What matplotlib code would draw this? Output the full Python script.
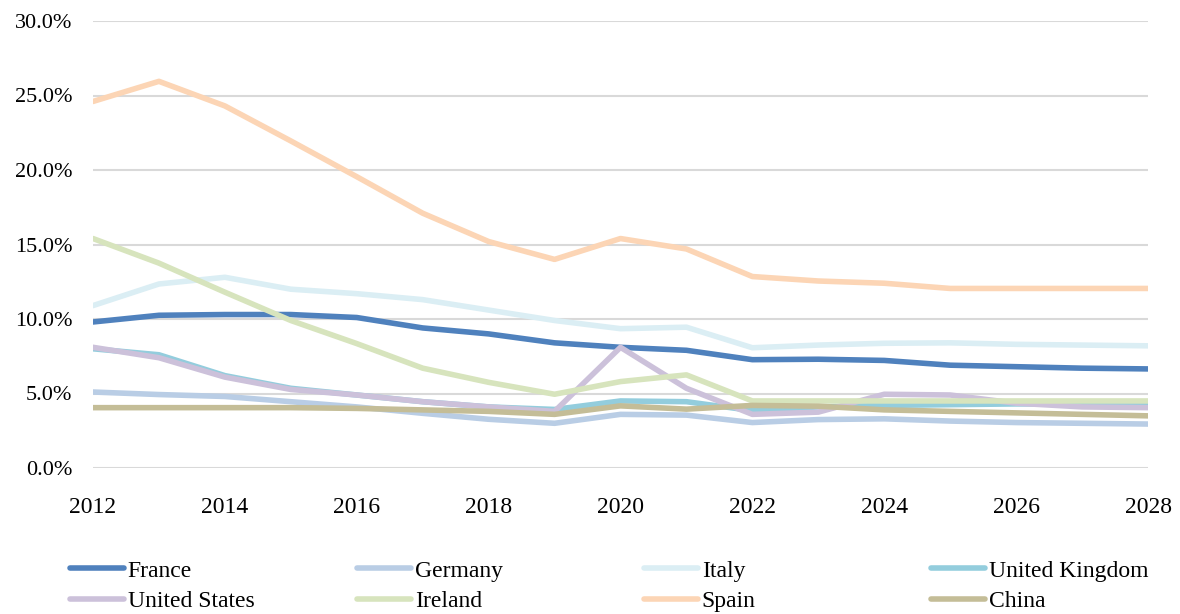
import matplotlib.pyplot as plt
from matplotlib.ticker import PercentFormatter

plt.rcParams['font.family'] = ['Liberation Serif', 'DejaVu Serif']

years = list(range(2012, 2029))

france = [9.8, 10.25, 10.3, 10.3, 10.1, 9.4, 9.0, 8.4, 8.1, 7.9, 7.27, 7.3, 7.22, 6.9, 6.8, 6.7, 6.65]
germany = [5.1, 4.93, 4.8, 4.45, 4.1, 3.67, 3.27, 3.0, 3.6, 3.55, 3.05, 3.25, 3.3, 3.15, 3.05, 3.0, 2.95]
italy = [10.9, 12.35, 12.8, 12.0, 11.7, 11.3, 10.6, 9.9, 9.35, 9.45, 8.07, 8.25, 8.37, 8.4, 8.3, 8.25, 8.2]
uk = [8.0, 7.6, 6.2, 5.35, 4.9, 4.45, 4.1, 3.93, 4.5, 4.45, 3.85, 4.1, 4.2, 4.25, 4.3, 4.3, 4.3]
us = [8.1, 7.4, 6.1, 5.27, 4.9, 4.45, 4.1, 3.8, 8.1, 5.35, 3.6, 3.75, 4.95, 4.9, 4.35, 4.1, 4.05]
ireland = [15.4, 13.75, 11.8, 9.9, 8.35, 6.7, 5.75, 4.95, 5.8, 6.25, 4.5, 4.5, 4.5, 4.5, 4.5, 4.5, 4.5]
spain = [24.6, 25.95, 24.3, 21.95, 19.55, 17.1, 15.2, 14.0, 15.4, 14.7, 12.85, 12.55, 12.4, 12.05, 12.05, 12.05, 12.05]
china = [4.05, 4.05, 4.05, 4.05, 4.0, 3.9, 3.8, 3.6, 4.17, 3.95, 4.2, 4.15, 3.9, 3.8, 3.7, 3.6, 3.5]

series = [
    ('France', france, '#4F81BD'),
    ('Germany', germany, '#B9CDE5'),
    ('Italy', italy, '#DBEEF4'),
    ('United Kingdom', uk, '#93CDDD'),
    ('United States', us, '#CCC1DA'),
    ('Ireland', ireland, '#D7E4BD'),
    ('Spain', spain, '#FCD5B5'),
    ('China', china, '#C4BD97'),
]

fig = plt.figure(figsize=(11.8, 6.14), dpi=100)
ax = fig.add_axes([93 / 1180, 1 - 468 / 614, (1148 - 93) / 1180, (468 - 21) / 614])

lines = []
for name, vals, col in series:
    ln, = ax.plot(years, vals, color=col, lw=4, label=name, solid_capstyle='round')
    lines.append(ln)

ax.set_xlim(2012, 2028)
ax.set_ylim(0, 30)
ax.set_xticks(range(2012, 2029, 2))
ax.set_yticks(range(0, 31, 5))
ax.yaxis.set_major_formatter(PercentFormatter(decimals=1))
ax.grid(axis='y', color='#D9D9D9', lw=1.5)
ax.set_axisbelow(True)
for s in ['top', 'right', 'left', 'bottom']:
    ax.spines[s].set_visible(False)
ax.tick_params(axis='y', length=0, labelsize=16, pad=15)
ax.tick_params(axis='x', length=0, labelsize=17, pad=21)

# legend: 4 columns, filled row by row
col_x = [70, 357, 644, 931]
for i, x in enumerate(col_x):
    pair = [lines[i], lines[i + 4]]
    leg = fig.legend(pair, [l.get_label() for l in pair], loc='center left',
                     bbox_to_anchor=(x / 1180, 1 - 586 / 614), frameon=False,
                     fontsize=17, handlelength=2.3, handletextpad=0.15,
                     labelspacing=0.36, borderpad=0, borderaxespad=0)
    for h in leg.get_lines():
        h.set_linewidth(4)

fig.savefig('out.png', dpi=100)
